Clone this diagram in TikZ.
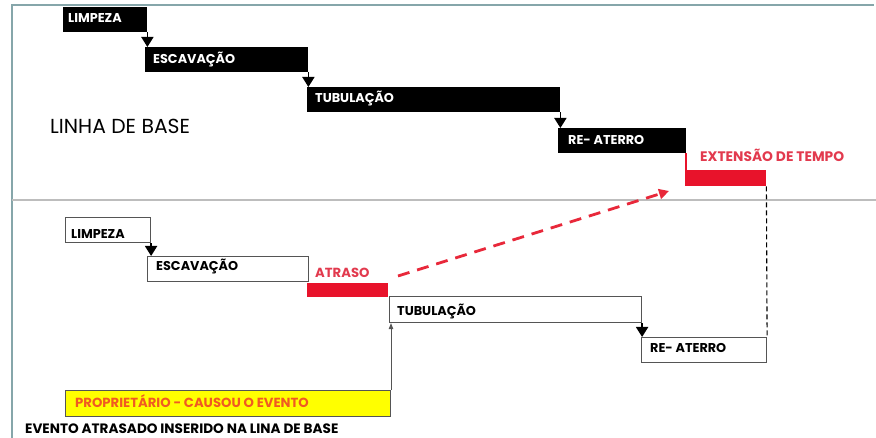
\documentclass[tikz,border=0pt]{standalone}
\usepackage{fontspec}
\setmainfont{Poppins}
\usetikzlibrary{arrows.meta,calc}
\definecolor{framecol}{HTML}{86A6AA}
\definecolor{dividecol}{HTML}{BDBDBD}
\definecolor{outlinecol}{HTML}{555555}
\definecolor{barred}{HTML}{E8132B}
\definecolor{labelred}{HTML}{E23A4E}
\definecolor{dashred}{HTML}{E8283A}
\definecolor{ownerorange}{HTML}{F05A22}
\definecolor{ownerfill}{HTML}{FFFF00}
\begin{document}
\begin{tikzpicture}[x=1pt,y=-1pt,
  blackbar/.style={fill=black, draw=none, anchor=north west, inner sep=0pt},
  redbar/.style={fill=barred, draw=none, anchor=north west, inner sep=0pt},
  openbox/.style={fill=white, draw=outlinecol, line width=1.1pt, anchor=north west, inner sep=0pt},
  ownerbox/.style={fill=ownerfill, draw=outlinecol, line width=1pt, anchor=north west, inner sep=0pt},
  barlabel/.style={anchor=base west, inner sep=0pt, font=\fontsize{12.8}{15}\selectfont\bfseries},
  whitelabel/.style={barlabel, text=white},
  blacklabel/.style={barlabel, text=black},
  redlabel/.style={barlabel, text=labelred},
  steparrow/.style={line width=1.8pt, -{Triangle[width=12pt,length=10pt]}},
  thinarrow/.style={line width=0.9pt, draw=outlinecol, -{Triangle[width=4.5pt,length=6pt]}},
]
\useasboundingbox (0,0) rectangle (876,438);

% frame and divider
\draw[framecol, line width=1.6pt] (12,438) -- (12,5) -- (874,5);
\draw[dividecol, line width=1.5pt] (12,200) -- (876,200);

% ---- baseline schedule ----
\node[blackbar, minimum width=84pt,  minimum height=25pt] (t1) at (63,7)  {};
\node[blackbar, minimum width=163pt, minimum height=25pt] (t2) at (145,47) {};
\node[blackbar, minimum width=253pt, minimum height=25pt] (t3) at (307,87) {};
\node[blackbar, minimum width=128pt, minimum height=25pt] (t4) at (558,128) {};
\node[redbar,   minimum width=81pt,  minimum height=16pt] (te) at (685,170) {};

\node[whitelabel] (t1l) at (68,22.5)  {LIMPEZA};
\node[whitelabel] (t2l) at (153,63.5) {ESCAVAÇÃO};
\node[whitelabel] (t3l) at (315,102.5) {TUBULAÇÃO};
\node[whitelabel] (t4l) at (568,144.5) {RE- ATERRO};
\node[redlabel, font=\fontsize{13.8}{16}\selectfont\bfseries] (tel) at (700,162) {EXTENSÃO DE TEMPO};

\node[anchor=base west, inner sep=0pt, font=\fontsize{20.3}{24}\selectfont] (base) at (50,134) {LINHA DE BASE};

\draw[steparrow] (t1.south east) -- (t1.south east |- t2.north);
\draw[steparrow] (t2.south east) -- (t2.south east |- t3.north);
\draw[steparrow] (t3.south east) -- (t3.south east |- t4.north);
\draw[barred, line width=2pt] (t4.south east) -- (t4.south east |- te.north);

% ---- delayed schedule ----
\node[openbox,  minimum width=85pt,  minimum height=25pt] (b1) at (65,217)  {};
\node[openbox,  minimum width=161pt, minimum height=25pt] (b2) at (147,256) {};
\node[redbar,   minimum width=81pt,  minimum height=14pt] (ba) at (307,283) {};
\node[openbox,  minimum width=252pt, minimum height=26pt] (b3) at (389,296) {};
\node[openbox,  minimum width=125pt, minimum height=25pt] (b4) at (641,337) {};
\node[ownerbox, minimum width=325pt, minimum height=26pt] (own) at (65,390) {};

\node[blacklabel] (b1l) at (71,239)  {LIMPEZA};
\node[blacklabel] (b2l) at (156,270.5) {ESCAVAÇÃO};
\node[redlabel, font=\fontsize{13.2}{16}\selectfont\bfseries] (bal) at (315,277.5) {ATRASO};
\node[blacklabel] (b3l) at (397,315.5) {TUBULAÇÃO};
\node[blacklabel] (b4l) at (650,352.5) {RE- ATERRO};
\node[barlabel, text=ownerorange, font=\fontsize{13.2}{16}\selectfont\bfseries] (ownl) at (75,407.5) {PROPRIETÁRIO - CAUSOU O EVENTO};
\node[anchor=base west, inner sep=0pt, font=\fontsize{13.6}{16}\selectfont\bfseries] (note) at (25,433) {EVENTO ATRASADO INSERIDO NA LINA DE BASE};

\draw[steparrow] (b1.south east) -- (b1.south east |- b2.north);
\draw[steparrow] (b3.south east) -- (b3.south east |- b4.north);
\draw[thinarrow] (own.north east) -- (own.north east |- b3.south);

% link between the two schedules
\draw[black, line width=1.1pt, dash pattern=on 5pt off 3pt] (te.south east) -- (b4.north east);
\coordinate (ds) at (398,276);
\coordinate (de) at (669,191);
\draw[dashred, line width=2.8pt, dash pattern=on 12pt off 8pt, -{Triangle[width=10pt,length=10pt]}] (ds) -- (de);
\end{tikzpicture}
\end{document}
